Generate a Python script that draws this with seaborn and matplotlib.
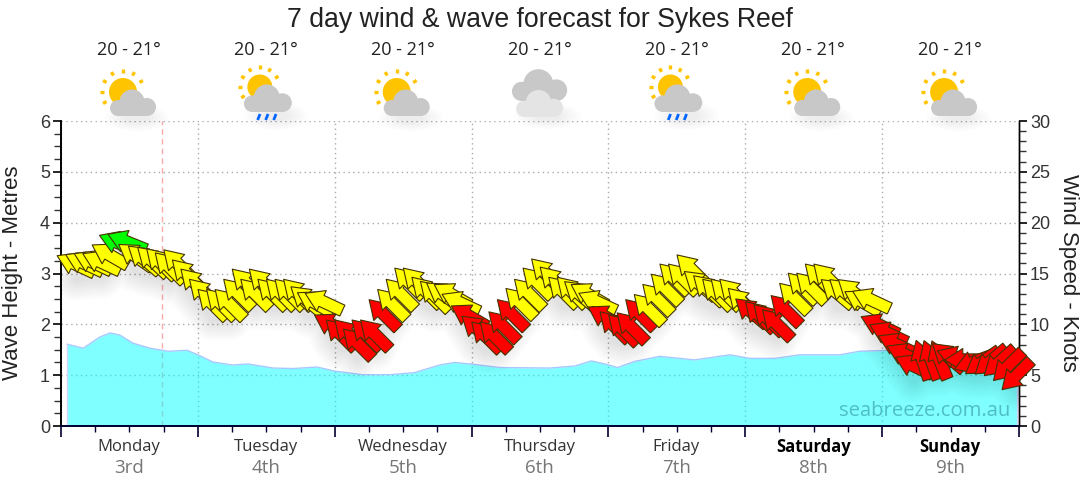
import numpy as np
import pandas as pd
import matplotlib
matplotlib.use("Agg")
import matplotlib.pyplot as plt
import matplotlib.transforms as mtrans
from matplotlib.patches import Circle, Rectangle, Ellipse
import seaborn as sns

title = "7 day wind & wave forecast for Sykes Reef"
day_names = ["Monday", "Tuesday", "Wednesday", "Thursday", "Friday", "Saturday", "Sunday"]
day_dates = ["3rd", "4th", "5th", "6th", "7th", "8th", "9th"]
temps = ["20 - 21°"] * 7
icons = ["sun", "rain", "sun", "cloud", "rain", "sun", "sun"]

wave_hours = [1.05, 3.9, 6.8, 8.6, 10.3, 12.6, 15.6, 18.8, 22.1, 24, 26.6, 30, 32.8, 37.2, 40.7, 44.9,
              48, 52.9, 57.7, 62, 66.4, 69, 72.6, 77, 85.7, 90.1, 93, 95.4, 97.6, 100.6, 105, 111.1,
              117.3, 120.8, 125.2, 129.5, 136.6, 140, 145.3, 150.6, 157.6, 164.6, 167.6]
wave_height = [1.61, 1.53, 1.75, 1.83, 1.79, 1.63, 1.53, 1.47, 1.49, 1.40, 1.26, 1.20, 1.22, 1.14, 1.13, 1.16,
               1.08, 1.01, 1.01, 1.05, 1.20, 1.25, 1.21, 1.15, 1.14, 1.18, 1.28, 1.22, 1.15, 1.27, 1.37, 1.30,
               1.40, 1.33, 1.33, 1.40, 1.40, 1.47, 1.49, 1.40, 1.30, 1.20, 1.20]

# wind every 1.5 hours
wind_knots = [15.9, 16.0, 16.1, 16.1, 16.8, 18.0, 18.1, 16.7, 16.4, 16.2, 16.0, 15.6, 15.9,
              14.9, 14.0, 13.0, 12.0, 12.0, 12.0, 13.0, 14.0, 13.0, 14.0, 13.0, 13.0, 13.0, 13.0,
              12.4, 12.1, 12.2, 9.9, 9.0, 9.0, 8.1, 9.0, 9.0, 11.0,
              12.0, 13.0, 14.1, 14.1, 13.2, 12.8, 12.9, 12.9, 12.1, 10.8, 9.5, 8.8, 8.8, 9.8, 11.0,
              12.1, 13.0, 14.1, 15.0, 14.2, 13.2, 13.2, 12.9, 12.9, 12.2, 10.7, 9.8, 9.5, 9.7, 11.0,
              11.5, 12.5, 13.5, 14.5, 14.5, 15.4, 13.9, 13.4, 13.0, 13.0, 13.0, 12.1,
              11.2, 10.8, 10.5, 10.0, 11.4, 12.6, 13.6, 13.6, 14.5, 14.5, 13.1, 13.1, 13.1, 12.2, 12.4,
              9.9, 9.1, 8.0, 7.0, 5.9, 6.5, 6.5, 6.5, 6.8, 6.7, 6.5, 6.3, 6.3, 6.4, 6.3, 5.9, 5.0]
wind_dir = [155, 155, 155, 155, 150, 158, 158, 145, 140, 137, 135, 135, 135,
            135, 135, 135, 135, 135, 135, 135, 135, 135, 135, 135, 135, 135, 135,
            140, 150, 155, 150, 135, 135, 135, 135, 135, 135,
            135, 135, 135, 135, 135, 135, 145, 150, 155, 150, 140, 135, 135, 135, 135,
            135, 135, 135, 135, 135, 135, 135, 140, 150, 155, 150, 135, 135, 135, 135,
            135, 135, 135, 135, 135, 135, 140, 137, 135, 135, 135, 135,
            140, 135, 135, 135, 135, 135, 135, 135, 135, 135, 140, 140, 140, 150, 155,
            155, 155, 155, 155, 155, 108, 110, 112, 140, 160, 180, 200, 215, 220, 222, 225, 225]
wind_color = (["yellow"] * 5 + ["lime"] * 2 + ["yellow"] * 23 + ["red"] * 7 + ["yellow"] * 9
              + ["red"] * 6 + ["yellow"] * 10 + ["red"] * 5 + ["yellow"] * 12 + ["red"] * 5
              + ["yellow"] * 10 + ["red"] * 17)
wind_hours = 2.58 + 1.5 * np.arange(len(wind_knots))

sns.set_style("white")
plt.rcParams["font.family"] = ["Liberation Sans", "DejaVu Sans"]

W, H = 1080, 490
fig = plt.figure(figsize=(W / 100, H / 100), dpi=100)
ax = fig.add_axes([61 / W, (H - 426) / H, 958 / W, 305 / H])
ax2 = ax.twinx()

# wave height
wave = pd.DataFrame({"hour": wave_hours, "height": wave_height})
ax.fill_between(wave["hour"], wave["height"], 0, color="#00ffff", alpha=0.5, lw=0, zorder=2)
sns.lineplot(data=wave, x="hour", y="height", ax=ax, color="#a8c8ff", lw=1, zorder=3)
ax.plot([wave_hours[0]] * 2, [0, wave_height[0]], color="#c8d8ff", lw=1, zorder=3)
ax.plot([wave_hours[-1]] * 2, [0, wave_height[-1]], color="#c8d8ff", lw=1, zorder=3)
ax.axvline(17.7, color="#ffaaaa", ls=(0, (4, 3)), lw=1, zorder=1)

ax.set_xlim(0, 168)
ax.set_ylim(0, 6)
ax2.set_ylim(0, 30)
ax.set_xlabel("")
ax.set_ylabel("")
ax2.set_ylabel("")

ax.set_xticks(np.arange(0, 169, 24))
ax.set_xticks(np.arange(0, 169, 6), minor=True)
ax.set_xticklabels([])
ax.set_yticks(range(7))
ax.set_yticks(np.arange(0, 6.01, 0.25), minor=True)
ax2.set_yticks(range(0, 31, 5))
ax2.set_yticks(range(0, 31), minor=True)
ax.grid(True, which="major", color="#aaaaaa", ls=(0, (1, 2.5)), lw=1, zorder=0)
ax.set_axisbelow(True)

ax.tick_params(axis="x", which="major", bottom=True, length=8, width=1.2, color="#000033")
ax.tick_params(axis="x", which="minor", bottom=True, length=4, width=1, color="#000033")
ax.tick_params(axis="y", which="major", left=True, length=6, width=1.2, color="black",
               labelsize=13, labelcolor="#333333", pad=2)
ax.tick_params(axis="y", which="minor", left=True, length=5, width=1, color="#333333")
ax2.tick_params(axis="y", which="major", right=True, length=6, width=1.2, color="black",
                labelsize=13, labelcolor="#333333", pad=2)
ax2.tick_params(axis="y", which="minor", right=True, length=5, width=1, color="#333333")

for a in (ax, ax2):
    a.spines["top"].set_visible(False)
    a.spines["left"].set_color("black")
    a.spines["left"].set_linewidth(1.2)
    a.spines["right"].set_color("black")
    a.spines["right"].set_linewidth(1)
    a.spines["bottom"].set_color("#000033")
    a.spines["bottom"].set_linewidth(1.3)

# soft shadow under the arrows
shadow = mtrans.offset_copy(ax2.transData, fig=fig, x=0, y=-15, units="dots")
for lw in range(4, 34, 3):
    ax2.plot(wind_hours, wind_knots, color="black", alpha=0.012, lw=lw, transform=shadow,
             solid_capstyle="round", zorder=1)

# wind arrows, later ones sit on top
arrow_len = 41
rad = np.radians(wind_dir)
ax2.quiver(wind_hours, wind_knots, arrow_len * np.cos(rad), arrow_len * np.sin(rad),
           color=wind_color, edgecolor="#443300", linewidth=0.8,
           units="dots", width=12, scale=1, scale_units="dots", pivot="mid",
           headwidth=1.9, headlength=1.5, headaxislength=1.5,
           clip_on=False, zorder=5)

# overlay in pixel coordinates for texts and icons
ov = fig.add_axes([0, 0, 1, 1], zorder=10)
ov.set_xlim(0, W)
ov.set_ylim(H, 0)
ov.axis("off")
ov.patch.set_alpha(0)

ov.text(540, 20, title, ha="center", va="center", fontsize=19.2, color="#222222")
ov.text(13, 273, "Wave Height - Metres", rotation=90, ha="center", va="center", fontsize=16, color="#222222")
ov.text(1068, 273, "Wind Speed - Knots", rotation=270, ha="center", va="center", fontsize=16, color="#222222")
ov.text(1010, 411, "seabreeze.com.au", ha="right", va="center", fontsize=14.6, color="#4fbfc4",
        family="Open Sans")


def cloud(cx, bottom, s, color, z=3):
    # flat bottomed cloud from circles and a filled base
    ov.add_patch(Rectangle((cx - 15 * s, bottom - 12 * s), 29 * s, 12 * s, fc=color, ec="none", zorder=z))
    ov.add_patch(Circle((cx - 15 * s, bottom - 8 * s), 8 * s, fc=color, ec="none", zorder=z))
    ov.add_patch(Circle((cx + 14 * s, bottom - 9 * s), 9 * s, fc=color, ec="none", zorder=z))
    ov.add_patch(Circle((cx - 1 * s, bottom - 14 * s), 12.5 * s, fc=color, ec="none", zorder=z))


def sun(cx, cy, r):
    ov.add_patch(Circle((cx, cy), r, fc="#ffc400", ec="none", zorder=2))
    for deg in (30, 60, 90, 120, 150, 180, 210):
        a = np.radians(deg)
        ov.plot([cx + (r + 5) * np.cos(a), cx + (r + 9) * np.cos(a)],
                [cy - (r + 5) * np.sin(a), cy - (r + 9) * np.sin(a)],
                color="#ffc400", lw=2.4, solid_capstyle="butt", zorder=2)


def soft_shadow(cx, cy, w, h):
    for k in range(6):
        ov.add_patch(Ellipse((cx, cy), w * (1 - k * 0.12), h * (1 - k * 0.12), fc="black",
                             alpha=0.012, ec="none", zorder=1))


for i in range(7):
    cx = 129 + i * 136.85
    ov.text(cx, 50, temps[i], ha="center", va="center", fontsize=13, color="#222222", family="Open Sans")
    ov.text(cx, 447, day_names[i], ha="center", va="center", fontsize=12, family="Open Sans",
            color="black" if i >= 5 else "#333333", fontweight="bold" if i >= 5 else "normal")
    ov.text(cx, 468, day_dates[i], ha="center", va="center", fontsize=13.5, color="#777777", family="Open Sans")
    if icons[i] == "sun":
        soft_shadow(cx + 8, 118, 64, 26)
        sun(cx - 6, 92, 14)
        cloud(cx + 4, 116, 1, "#c8c8c8")
    elif icons[i] == "rain":
        soft_shadow(cx + 10, 116, 64, 28)
        sun(cx - 6, 87, 12.5)
        cloud(cx + 2, 112, 1.04, "#c8c8c8")
        for dx in (-7, 1, 9):
            ov.plot([cx + dx + 1.2, cx + dx - 1.2], [114, 120], color="#0066ff", lw=2, solid_capstyle="butt", zorder=4)
    else:
        soft_shadow(cx + 8, 116, 66, 26)
        cloud(cx, 101, 1.2, "#c8c8c8")
        cloud(cx, 117, 1.02, "#e4e4e4", z=4)

fig.savefig("out.png", dpi=100)
